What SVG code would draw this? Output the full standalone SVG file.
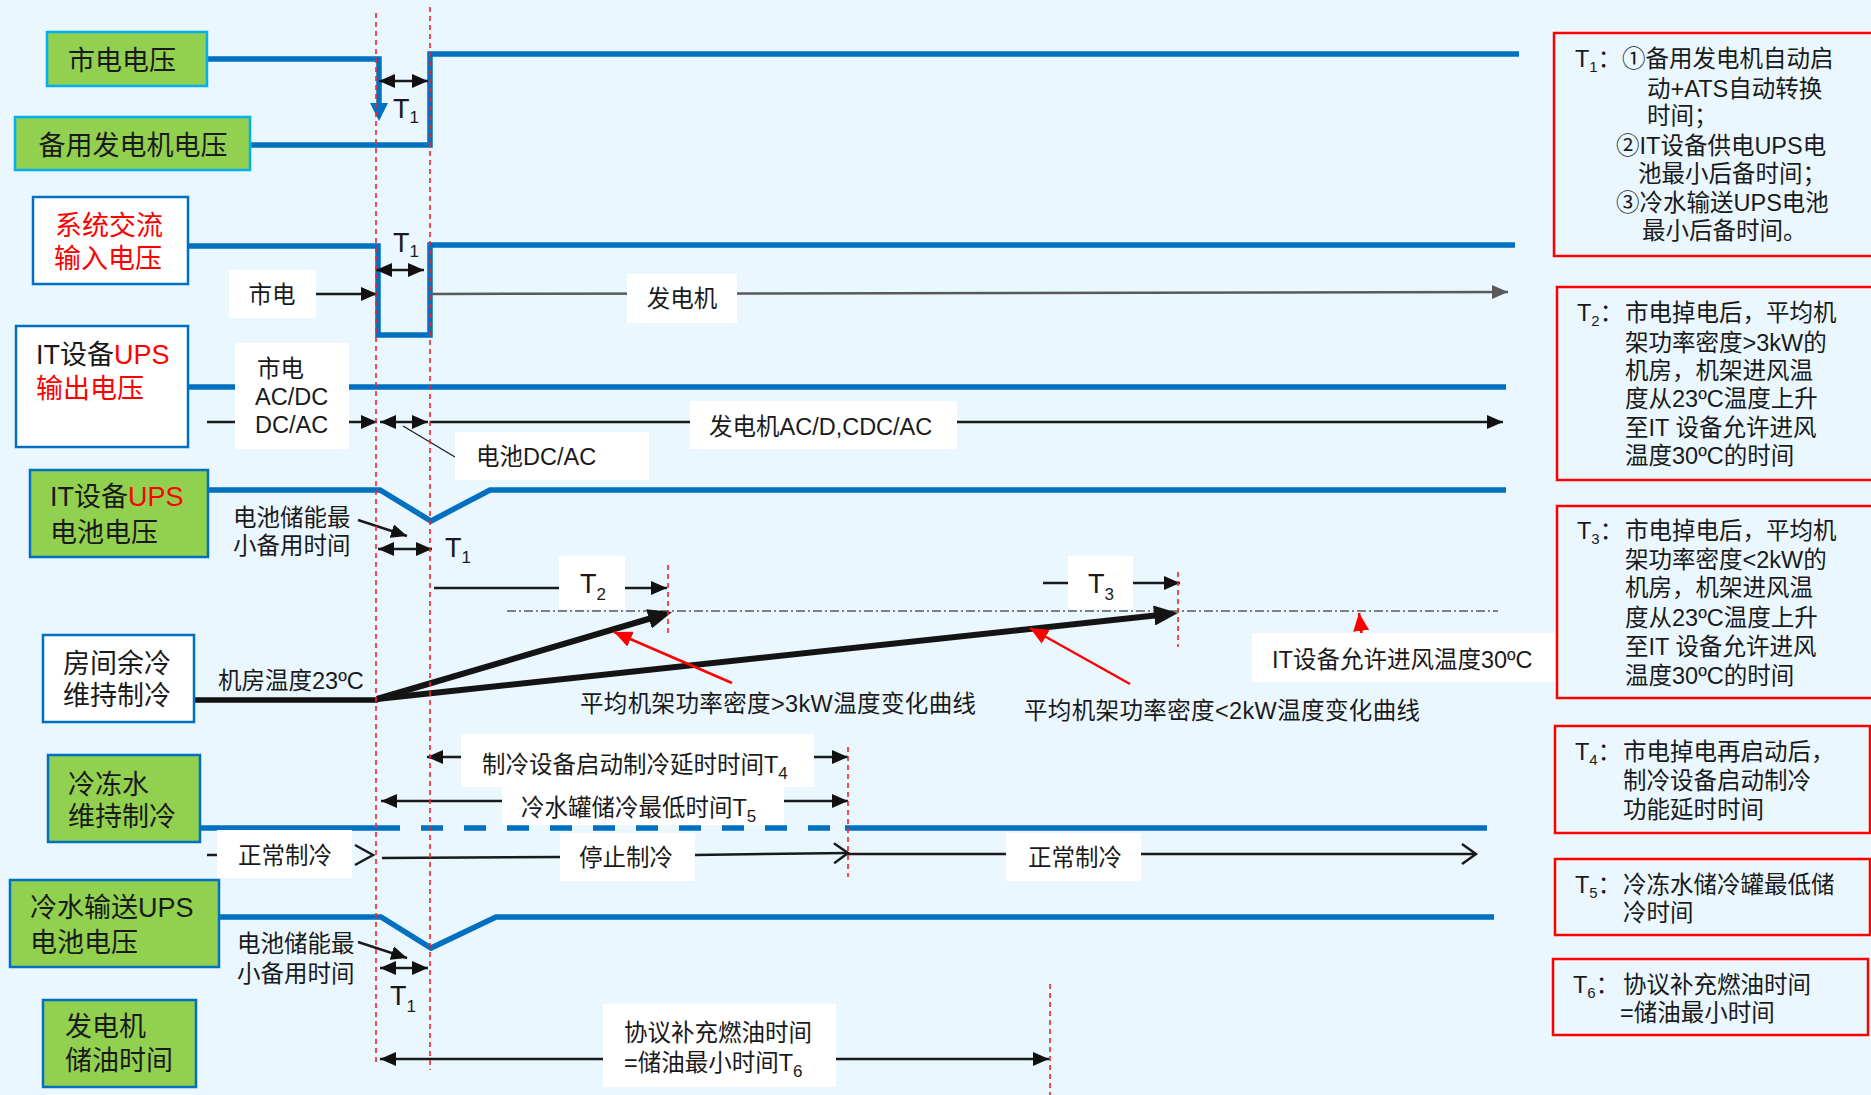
<svg xmlns="http://www.w3.org/2000/svg" width="1871" height="1095" viewBox="0 0 1871 1095">
<defs>
<style>
.g{fill:#92D050;stroke:#0070C0;stroke-width:2.5}
.gc{fill:#92D050;stroke:#00B0F0;stroke-width:2.5}
.w{fill:#fff;stroke:#0070C0;stroke-width:2.5}
.lb{fill:#fff}
.rb{fill:none;stroke:#FF0000;stroke-width:2.5}
.sig{fill:none;stroke:#0070C0;stroke-width:5.5;stroke-linejoin:miter;stroke-linecap:butt}
.ln{fill:none;stroke:#1a1a1a;stroke-width:2.5}
.thin{fill:none;stroke:#1a1a1a;stroke-width:1.2}
.thick{fill:none;stroke:#141414;stroke-width:6}
.gr{fill:none;stroke:#595959;stroke-width:2.5}
.rl{fill:none;stroke:#FF0000;stroke-width:2.5}
.rd{fill:none;stroke:#FF2020;stroke-width:1.6;stroke-dasharray:5 4}
.dd{fill:none;stroke:#595959;stroke-width:1.5;stroke-dasharray:9 3 2 3}
text{font-family:"Liberation Sans","Noto Sans CJK SC",sans-serif;fill:#1a1a1a}
.big{font-size:27px}
.sm{font-size:23.5px}
.red{fill:#FF0000}
.t{font-family:"Liberation Sans",sans-serif;font-size:27px;fill:#1a1a1a}
.sub{font-size:17px}
.sub2{font-size:15px}
</style>
<marker id="ah" viewBox="0 0 16 14" refX="16" refY="7" markerWidth="16" markerHeight="14" markerUnits="userSpaceOnUse" orient="auto-start-reverse"><path d="M0,0 L16,7 L0,14 Z" fill="#111"/></marker>
<marker id="ag" viewBox="0 0 16 14" refX="16" refY="7" markerWidth="16" markerHeight="14" markerUnits="userSpaceOnUse" orient="auto"><path d="M0,0 L16,7 L0,14 Z" fill="#595959"/></marker>
<marker id="ar" viewBox="0 0 18 16" refX="18" refY="8" markerWidth="18" markerHeight="16" markerUnits="userSpaceOnUse" orient="auto"><path d="M0,0 L18,8 L0,16 Z" fill="#FF0000"/></marker>
<marker id="at" viewBox="0 0 24 20" refX="10" refY="10" markerWidth="24" markerHeight="20" markerUnits="userSpaceOnUse" orient="auto"><path d="M0,0 L24,10 L0,20 Z" fill="#141414"/></marker>
<marker id="ac" viewBox="0 0 16 22" refX="15" refY="11" markerWidth="16" markerHeight="22" markerUnits="userSpaceOnUse" orient="auto" overflow="visible"><path d="M1,1 L15,11 L1,21" fill="none" stroke="#1a1a1a" stroke-width="2.5"/></marker>
</defs>

<rect width="1871" height="1095" fill="#EAF7FE"/>

<g id="connectors">
  <!-- blue signal traces -->
  <path class="sig" d="M207,59 H379 V106"/>
  <polygon points="370,103 388,103 379,121" fill="#0070C0"/>
  <path class="sig" d="M250,145 H430 V54 H1519"/>
  <path class="sig" d="M188,246 H378 V335 H430 V245 H1515"/>
  <path class="sig" d="M188,387 H1506"/>
  <path class="sig" d="M208,490 H380 L431,521 L490,490 H1506"/>
  <path class="sig" d="M200,828 H378"/>
  <path class="sig" d="M378,828 H830" stroke-dasharray="22 21"/>
  <path class="sig" d="M845,828 H1487"/>
  <path class="sig" d="M219,917 H381 L431,948 L496,917 H1494"/>

  <!-- T1 markers -->
  <path class="ln" d="M379,81 H428" marker-start="url(#ah)" marker-end="url(#ah)"/>
  <path class="ln" d="M376,270 H424" marker-start="url(#ah)" marker-end="url(#ah)"/>

  <!-- system AC input -->
  <path class="ln" d="M316,294 H377" marker-end="url(#ah)"/>
  <path class="gr" d="M431,294 L1508,292" marker-end="url(#ag)"/>

  <!-- UPS output -->
  <path class="ln" d="M207,422 H235"/>
  <path class="ln" d="M349,422 H377" marker-end="url(#ah)"/>
  <path class="ln" d="M380,422 H428" marker-start="url(#ah)" marker-end="url(#ah)"/>
  <path class="ln" d="M430,422 H690"/>
  <path class="ln" d="M957,422 H1503" marker-end="url(#ah)"/>
  <path class="thin" d="M403,426 L455,457"/>

  <!-- UPS battery -->
  <path class="ln" d="M358,520 L407,536" marker-end="url(#ah)"/>
  <path class="ln" d="M378,549 H432" marker-start="url(#ah)" marker-end="url(#ah)"/>

  <!-- temperature -->
  <path class="ln" d="M434,588 H559"/>
  <path class="ln" d="M625,588 H667" marker-end="url(#ah)"/>
  <path class="ln" d="M1043,583 H1068"/>
  <path class="ln" d="M1133,583 H1180" marker-end="url(#ah)"/>
  <path class="dd" d="M507,611 H1498"/>
  <path fill="none" stroke="#111" stroke-width="5.5" d="M194,700 H378"/>
  <path class="thick" d="M377,699 L658.6,616" marker-end="url(#at)"/>
  <path class="thick" d="M377,699 L1164.1,614.5" stroke="#262626" marker-end="url(#at)"/>
  <path class="rl" d="M732,683 L614,632" marker-end="url(#ar)"/>
  <path class="rl" d="M1130,684 L1030,628" marker-end="url(#ar)"/>
  <path class="rl" d="M1362,638 L1359,613" marker-end="url(#ar)"/>

  <!-- chilled water -->
  <path class="ln" d="M461,757 H427" marker-end="url(#ah)"/>
  <path class="ln" d="M814,757 H848" marker-end="url(#ah)"/>
  <path class="ln" d="M502,801 H381" marker-end="url(#ah)"/>
  <path class="ln" d="M784,801 H848" marker-end="url(#ah)"/>
  <path class="ln" d="M207,855 H217"/>
  <path class="ln" d="M355,845 L373,855 L355,865"/>
  <path class="ln" d="M382,858 L560,857"/>
  <path class="ln" d="M695,855 L848,853" marker-end="url(#ac)"/>
  <path class="ln" d="M848,854 H1006"/>
  <path class="ln" d="M1141,854 H1476" marker-end="url(#ac)"/>

  <!-- chilled water UPS -->
  <path class="ln" d="M358,942 L407,958" marker-end="url(#ah)"/>
  <path class="ln" d="M380,968 H428" marker-start="url(#ah)" marker-end="url(#ah)"/>

  <!-- fuel -->
  <path class="ln" d="M603,1059 H380" marker-end="url(#ah)"/>
  <path class="ln" d="M836,1059 H1049" marker-end="url(#ah)"/>
</g>

<g id="line-labels">
  <rect class="lb" x="229" y="270" width="87" height="48"/>
  <text class="sm" x="272" y="303" text-anchor="middle">市电</text>
  <rect class="lb" x="627" y="274" width="110" height="49"/>
  <text class="sm" x="682" y="307" text-anchor="middle">发电机</text>

  <rect class="lb" x="235" y="343" width="114" height="106"/>
  <text class="sm" x="257" y="377">市电</text>
  <text class="sm" x="255" y="405">AC/DC</text>
  <text class="sm" x="255" y="433">DC/AC</text>
  <rect class="lb" x="690" y="401" width="267" height="48"/>
  <text class="sm" x="709" y="435">发电机AC/D,CDC/AC</text>
  <rect class="lb" x="455" y="432" width="194" height="48"/>
  <text class="sm" x="476" y="465">电池DC/AC</text>

  <text class="sm" x="233" y="526">电池储能最</text>
  <text class="sm" x="233" y="554">小备用时间</text>

  <text class="t" x="393" y="118">T<tspan class="sub" dy="5">1</tspan></text>
  <text class="t" x="393" y="252">T<tspan class="sub" dy="5">1</tspan></text>
  <text class="t" x="445" y="557">T<tspan class="sub" dy="6">1</tspan></text>

  <text class="sm" x="218" y="689">机房温度23ºC</text>
  <rect class="lb" x="559" y="556" width="66" height="53"/>
  <text class="t" x="580" y="593">T<tspan class="sub" dy="7">2</tspan></text>
  <rect class="lb" x="1068" y="556" width="65" height="53"/>
  <text class="t" x="1088" y="593">T<tspan class="sub" dy="7">3</tspan></text>
  <text class="sm" x="580" y="712" textLength="396" lengthAdjust="spacing">平均机架功率密度&gt;3kW温度变化曲线</text>
  <text class="sm" x="1024" y="719" textLength="396" lengthAdjust="spacing">平均机架功率密度&lt;2kW温度变化曲线</text>
  <rect class="lb" x="1252" y="633" width="303" height="49"/>
  <text class="sm" x="1272" y="668">IT设备允许进风温度30ºC</text>

  <rect class="lb" x="461" y="734" width="353" height="53"/>
  <text class="sm" x="482" y="773">制冷设备启动制冷延时时间T<tspan class="sub" dy="6">4</tspan></text>
  <rect class="lb" x="502" y="787" width="282" height="38"/>
  <text class="sm" x="521" y="816">冷水罐储冷最低时间T<tspan class="sub" dy="6">5</tspan></text>

  <rect class="lb" x="217" y="830" width="135" height="48"/>
  <text class="sm" x="238" y="864">正常制冷</text>
  <rect class="lb" x="560" y="833" width="135" height="48"/>
  <text class="sm" x="579" y="866">停止制冷</text>
  <rect class="lb" x="1006" y="833" width="135" height="48"/>
  <text class="sm" x="1028" y="866">正常制冷</text>

  <text class="sm" x="237" y="952">电池储能最</text>
  <text class="sm" x="237" y="982">小备用时间</text>
  <text class="t" x="390" y="1005">T<tspan class="sub" dy="7">1</tspan></text>

  <rect class="lb" x="603" y="1004" width="233" height="83"/>
  <text class="sm" x="624" y="1041">协议补充燃油时间</text>
  <text class="sm" x="624" y="1071">=储油最小时间T<tspan class="sub" dy="6">6</tspan></text>
</g>

<g id="guides">
  <path class="rd" d="M376,13 V1065"/>
  <path class="rd" d="M430,7 V1070"/>
  <path class="rd" d="M668,565 V635"/>
  <path class="rd" d="M1178,572 V647"/>
  <path class="rd" d="M848,747 V877"/>
  <path class="rd" d="M1050,984 V1095"/>
</g>

<g id="n-mains">
  <rect class="gc" x="47" y="32" width="160" height="54"/>
  <text class="big" x="122" y="70" text-anchor="middle">市电电压</text>
</g>
<g id="n-backup">
  <rect class="gc" x="15" y="117" width="235" height="53"/>
  <text class="big" x="133" y="155" text-anchor="middle">备用发电机电压</text>
</g>
<g id="n-sysac">
  <rect class="w" x="33" y="197" width="155" height="87"/>
  <text class="big red" x="109" y="235" text-anchor="middle">系统交流</text>
  <text class="big red" x="108" y="268" text-anchor="middle">输入电压</text>
</g>
<g id="n-upsout">
  <rect class="w" x="16" y="326" width="172" height="121"/>
  <text class="big" x="36" y="364">IT设备<tspan class="red">UPS</tspan></text>
  <text class="big red" x="36" y="398">输出电压</text>
</g>
<g id="n-upsbat">
  <rect class="g" x="30" y="470" width="178" height="87"/>
  <text class="big" x="50" y="506">IT设备<tspan class="red">UPS</tspan></text>
  <text class="big" x="50" y="542">电池电压</text>
</g>
<g id="n-room">
  <rect class="w" x="43" y="635" width="151" height="87"/>
  <text class="big" x="63" y="673">房间余冷</text>
  <text class="big" x="63" y="705">维持制冷</text>
</g>
<g id="n-chw">
  <rect class="g" x="48" y="755" width="152" height="87"/>
  <text class="big" x="68" y="794">冷冻水</text>
  <text class="big" x="68" y="826">维持制冷</text>
</g>
<g id="n-chwups">
  <rect class="g" x="10" y="880" width="209" height="87"/>
  <text class="big" x="30" y="917">冷水输送UPS</text>
  <text class="big" x="30" y="952">电池电压</text>
</g>
<g id="n-fuel">
  <rect class="g" x="43" y="1000" width="153" height="87"/>
  <text class="big" x="65" y="1036">发电机</text>
  <text class="big" x="65" y="1070">储油时间</text>
</g>

<g id="note-t1">
  <rect class="rb" x="1554" y="33" width="330" height="223"/>
  <text class="sm" x="1575" y="67"><tspan font-family="Liberation Sans">T</tspan><tspan class="sub2" dy="5">1</tspan><tspan dy="-5">：</tspan></text>
  <text class="sm" x="1622" y="67">①备用发电机自动启</text>
  <text class="sm" x="1647" y="97">动+ATS自动转换</text>
  <text class="sm" x="1647" y="124">时间；</text>
  <text class="sm" x="1616" y="154">②IT设备供电UPS电</text>
  <text class="sm" x="1638" y="182">池最小后备时间；</text>
  <text class="sm" x="1616" y="211">③冷水输送UPS电池</text>
  <text class="sm" x="1642" y="239">最小后备时间。</text>
</g>
<g id="note-t2">
  <rect class="rb" x="1557" y="287" width="330" height="193"/>
  <text class="sm" x="1577" y="321"><tspan font-family="Liberation Sans">T</tspan><tspan class="sub2" dy="5">2</tspan><tspan dy="-5">：</tspan></text>
  <text class="sm" x="1625" y="321">市电掉电后，平均机</text>
  <text class="sm" x="1625" y="351">架功率密度&gt;3kW的</text>
  <text class="sm" x="1625" y="379">机房，机架进风温</text>
  <text class="sm" x="1625" y="407">度从23ºC温度上升</text>
  <text class="sm" x="1625" y="436">至IT 设备允许进风</text>
  <text class="sm" x="1625" y="464">温度30ºC的时间</text>
</g>
<g id="note-t3">
  <rect class="rb" x="1557" y="506" width="330" height="192"/>
  <text class="sm" x="1577" y="539"><tspan font-family="Liberation Sans">T</tspan><tspan class="sub2" dy="5">3</tspan><tspan dy="-5">：</tspan></text>
  <text class="sm" x="1625" y="539">市电掉电后，平均机</text>
  <text class="sm" x="1625" y="568">架功率密度&lt;2kW的</text>
  <text class="sm" x="1625" y="596">机房，机架进风温</text>
  <text class="sm" x="1625" y="626">度从23ºC温度上升</text>
  <text class="sm" x="1625" y="655">至IT 设备允许进风</text>
  <text class="sm" x="1625" y="684">温度30ºC的时间</text>
</g>
<g id="note-t4">
  <rect class="rb" x="1555" y="726" width="315" height="107"/>
  <text class="sm" x="1575" y="760"><tspan font-family="Liberation Sans">T</tspan><tspan class="sub2" dy="5">4</tspan><tspan dy="-5">：</tspan></text>
  <text class="sm" x="1623" y="760">市电掉电再启动后，</text>
  <text class="sm" x="1623" y="789">制冷设备启动制冷</text>
  <text class="sm" x="1623" y="818">功能延时时间</text>
</g>
<g id="note-t5">
  <rect class="rb" x="1555" y="859" width="315" height="76"/>
  <text class="sm" x="1575" y="893"><tspan font-family="Liberation Sans">T</tspan><tspan class="sub2" dy="5">5</tspan><tspan dy="-5">：</tspan></text>
  <text class="sm" x="1623" y="893">冷冻水储冷罐最低储</text>
  <text class="sm" x="1623" y="921">冷时间</text>
</g>
<g id="note-t6">
  <rect class="rb" x="1553" y="959" width="315" height="76"/>
  <text class="sm" x="1573" y="993"><tspan font-family="Liberation Sans">T</tspan><tspan class="sub2" dy="5">6</tspan><tspan dy="-5">：</tspan></text>
  <text class="sm" x="1623" y="993">协议补充燃油时间</text>
  <text class="sm" x="1620" y="1021">=储油最小时间</text>
</g>
</svg>
